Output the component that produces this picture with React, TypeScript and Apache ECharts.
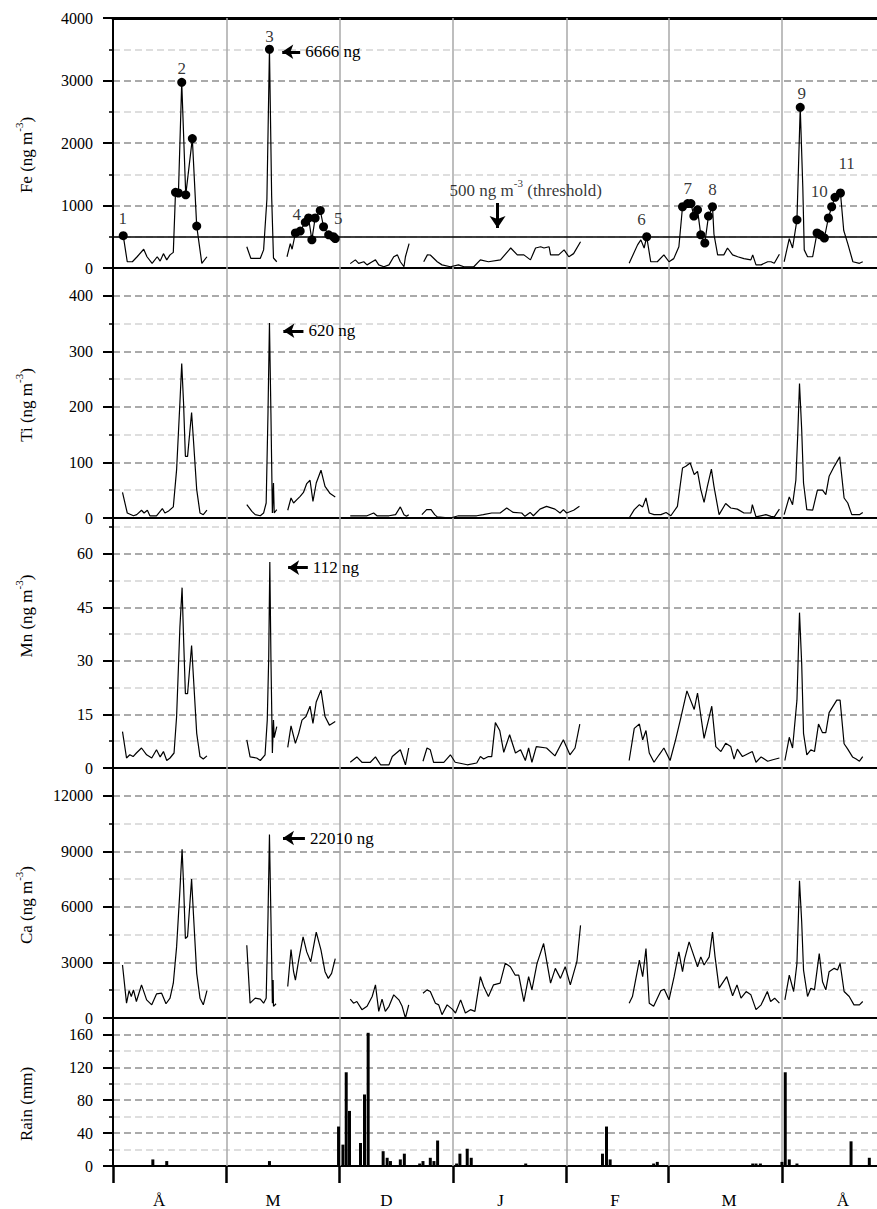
import React, { useEffect, useRef } from "react";
import * as echarts from "echarts";

const G = "-";
const FONT = "Liberation Serif";

const monthNames = ["Å", "M", "D", "J", "F", "M", "Å"];
const monthLabelDays = [12.6, 43.8, 74.8, 106, 137.3, 168.5, 199.7];
const monthBoundaryDays = [31, 62, 93, 124, 152, 183];
const dayMax = 209;
const threshold = 500;

// [day, value, marked(>threshold episode)]
const feData: any[] = [
  [2.8, 517, 1], [3.9, 100], [5.3, 100], [6.6, 180], [8.4, 300], [9.3, 180], [10.7, 75], [12.1, 180], [12.9, 110], [13.8, 230], [14.7, 130], [15.6, 210], [16.5, 250], [17.1, 1210, 1], [17.9, 1200, 1], [18.8, 2970, 1], [19.9, 1170, 1], [21.7, 2070, 1], [22.9, 670, 1], [24.3, 75], [25.7, 180],
  [30, G],
  [36.6, 340], [37.7, 155], [40.3, 155], [41.2, 290], [42.1, 1100], [42.8, 3500, 1], [43.4, 1150], [43.9, 160], [44.8, 100],
  [46, G],
  [47.6, 180], [48.5, 390], [49, 300], [49.9, 560, 1], [51.2, 590, 1], [52.6, 730, 1], [53.5, 800, 1], [54.4, 450, 1], [55.3, 800, 1], [56.7, 920, 1], [57.6, 660, 1], [59, 530, 1], [60.3, 500, 1], [60.8, 470, 1],
  [63, G],
  [64.9, 70], [66.3, 130], [67.2, 75], [68.6, 100], [69.5, 50], [70.9, 100], [71.8, 130], [72.7, 50], [74.1, 20], [75.5, 50], [76.8, 180], [77.8, 210], [78.6, 100], [79.6, 20], [80, 180], [81, 390],
  [83, G],
  [85, 100], [86, 210], [86.8, 208], [88.7, 100], [90, 50], [92.3, 20], [94.5, 50], [96, 20], [98.7, 20], [100.5, 130], [102.7, 100], [106, 130], [108.8, 320], [110.6, 210], [112.4, 210], [114.2, 130], [115.6, 320], [117, 340], [117.9, 320], [119.3, 340], [119.7, 210], [121.9, 210], [123.4, 290], [124.7, 180], [126, 230], [127.9, 420],
  [135, G],
  [141.2, 75], [143.5, 370], [144.4, 450], [145.3, 320], [146, 500, 1], [147.1, 100], [148.9, 100], [150.7, 210], [152.1, 100], [153.4, 150], [154.8, 340], [155.8, 980, 1], [157.2, 1030, 1], [158.1, 1030, 1], [158.9, 830, 1], [159.9, 930, 1], [160.8, 530, 1], [161.9, 400, 1], [162.9, 830, 1], [164, 980, 1], [164.4, 540], [165.4, 210], [167.1, 210], [168.1, 320], [169.5, 210], [170.9, 180], [172.6, 150], [174.5, 130], [175, 210], [175.9, 50], [177.3, 50], [179.1, 100], [180, 100], [180.9, 75], [182.3, 220],
  [183, G],
  [183.6, 100], [185, 470], [185.9, 320], [187.1, 770, 1], [188, 2570, 1], [188.7, 1300], [189.1, 290], [190, 180], [191.4, 180], [192.6, 560, 1], [193.5, 530, 1], [194.6, 480, 1], [195.7, 800, 1], [196.6, 980, 1], [197.5, 1130, 1], [199, 1200, 1], [199.9, 600], [201, 390], [202.4, 100], [204.2, 75], [205.1, 100],
];

const tiData: any[] = [
  [2.6, 46], [3.9, 9], [5.6, 4], [6.5, 6], [7.8, 14], [8.5, 9], [9.4, 14], [10.1, 4], [11.9, 4], [13.5, 17], [14.2, 9], [15.1, 12], [16.5, 20], [17.4, 87], [18.3, 207], [18.8, 278], [19.3, 207], [19.8, 111], [20.4, 111], [21.5, 190], [22, 141], [22.9, 51], [23.8, 9], [24.7, 6], [25.7, 14],
  [30, G],
  [36.6, 24], [38, 12], [38.9, 6], [40.3, 4], [41.2, 9], [41.9, 27], [42.4, 189], [42.8, 351], [43.2, 189], [43.6, 9], [43.9, 63], [44.1, 9], [44.8, 15],
  [46, G],
  [47.8, 14], [48.7, 36], [49.4, 27], [50.3, 33], [51.2, 39], [52.1, 46], [53, 62], [53.9, 68], [54.7, 30], [55.6, 63], [56.9, 86], [58, 57], [59.4, 44], [60.8, 38],
  [63, G],
  [64.9, 4], [69.5, 4], [71.3, 9], [72.2, 4], [75.5, 4], [77.3, 6], [78.6, 20], [79.6, 6], [80.3, 3], [80.9, 6],
  [83, G],
  [84.5, 6], [85.8, 15], [87, 15], [88, 6], [88.7, 2], [92.3, 0], [94.5, 4], [99.5, 4], [101.3, 6], [103.6, 9], [105.9, 9], [107.7, 18], [109.5, 10], [111.8, 9], [112.7, 3], [114.1, 10], [115, 4], [116.8, 16], [118.6, 21], [120.9, 16], [122.3, 9], [123.2, 15], [124.1, 9], [126, 14], [127.6, 21],
  [135, G],
  [141.2, 0], [142.6, 15], [144, 24], [144.9, 20], [145.8, 36], [146.7, 9], [148, 6], [149.9, 6], [151.3, 10], [152.6, 4], [154.4, 21], [155.8, 90], [156.7, 93], [157.9, 99], [159, 78], [159.9, 84], [160.8, 51], [161.7, 28], [162.6, 57], [163.7, 88], [164.4, 57], [165.8, 6], [167.6, 26], [169, 18], [170.8, 16], [172.6, 9], [174.5, 9], [174.9, 24], [175.9, 2], [178.6, 6], [180, 3], [180.9, 2], [182.3, 16],
  [183, G],
  [183.6, 6], [185, 38], [185.9, 24], [186.8, 68], [187.3, 147], [187.8, 242], [188.4, 159], [188.9, 63], [189.8, 15], [191.4, 14], [192.7, 50], [194.1, 50], [195, 42], [195.9, 75], [197.3, 93], [198.8, 110], [200, 36], [201, 27], [202.1, 6], [204.2, 6], [205.1, 10],
];

const mnData: any[] = [
  [2.6, 10.2], [3.7, 2.8], [4.6, 3.7], [5.5, 3.2], [6.4, 4.2], [7.8, 5.6], [9.2, 3.7], [10.6, 2.8], [11.9, 5.1], [12.9, 3.1], [13.8, 4.6], [14.7, 2.1], [15.6, 2.8], [16.7, 4.2], [17.4, 14.4], [18.3, 39.4], [18.9, 50.5], [19.3, 36.6], [19.8, 20.8], [20.4, 20.8], [21.5, 34.3], [22, 25.5], [22.9, 9.7], [23.8, 3.2], [24.7, 2.5], [25.7, 3.4],
  [30, G],
  [36.6, 7.9], [37.5, 3.1], [39.3, 2.8], [40.3, 2.1], [41.6, 3.7], [42.2, 13.4], [42.6, 31], [42.9, 57.7], [43.2, 31], [43.6, 4.2], [43.9, 13.4], [44.1, 8.5], [44.8, 11.6],
  [46, G],
  [47.8, 5.8], [48.7, 11.8], [49.9, 6.9], [50.8, 9.7], [51.7, 13.4], [52.8, 14.4], [53.9, 17.3], [54.7, 12.5], [55.6, 18.5], [56.9, 21.8], [58, 14.4], [59.2, 12], [60.8, 13],
  [63, G],
  [64.9, 1.6], [66.7, 3.1], [68.1, 1.6], [70.4, 1.6], [71.8, 3.1], [73.2, 0.9], [75.5, 0.9], [76.4, 3.2], [78.6, 5.1], [80, 0.9], [80.9, 5.6],
  [83, G],
  [84.8, 1.9], [85.9, 5.6], [86.8, 5.1], [87.7, 1.6], [90.5, 1.6], [92.3, 3.7], [93.6, 1.6], [96.9, 0.9], [99.5, 1.4], [100.5, 3.2], [101.4, 2.5], [102.7, 3.2], [103.6, 3.2], [104.6, 12.7], [105.8, 10.5], [106.9, 4.4], [108.5, 9.3], [110.1, 4.2], [111.5, 5.1], [112.8, 2.1], [113.7, 5.6], [114.6, 1.6], [115.8, 6], [118.6, 5.6], [120.9, 3.4], [123.2, 7.9], [125, 3.7], [126.4, 5.6], [127.7, 12.3],
  [135, G],
  [141.2, 2.1], [142.6, 11.1], [144, 12.3], [144.9, 7.9], [145.8, 10.5], [146.7, 4.2], [148, 1.6], [149.4, 3.7], [150.7, 5.6], [152.4, 2.1], [153.9, 7.9], [155.3, 13.9], [157, 21.6], [159, 16.4], [159.9, 21], [161.7, 8.3], [163.8, 17.3], [164.9, 6], [166.3, 4.6], [167.6, 6.9], [169, 6], [169.9, 2.5], [170.8, 5.3], [172.2, 3.2], [174.9, 4.6], [175.9, 1.6], [177.3, 3.1], [179.1, 1.9], [180.5, 2.3], [182.3, 2.8],
  [183, G],
  [183.8, 2.1], [185, 8.6], [185.9, 5.6], [187.1, 19], [187.8, 43.5], [188.4, 29.2], [188.9, 9.7], [189.8, 3.7], [190.9, 5.1], [191.9, 4.6], [193, 12.3], [194.1, 9.9], [195, 9.9], [195.9, 15.5], [198, 19], [198.9, 19], [200, 6.8], [201, 5.3], [202.3, 3.1], [203.3, 2.5], [204.2, 1.9], [205.1, 3.2],
];

const caData: any[] = [
  [2.6, 2860], [3.7, 800], [4.4, 1480], [5, 1160], [5.6, 1520], [6.4, 890], [7.8, 1790], [9.2, 980], [10.6, 710], [11.9, 1300], [13.3, 1340], [14.5, 770], [15.6, 1070], [16.5, 1880], [17.4, 3840], [18.3, 6880], [18.9, 9110], [19.3, 7230], [19.8, 4290], [20.4, 4400], [21.5, 7500], [22, 5630], [22.9, 2410], [23.8, 1070], [24.7, 710], [25.7, 1480],
  [30, G],
  [36.6, 3930], [37.5, 800], [38.9, 1070], [40.3, 1020], [41.2, 800], [41.9, 1070], [42.4, 5450], [42.8, 9910], [43.2, 5450], [43.6, 800], [43.8, 2050], [43.9, 630], [44.6, 770],
  [46, G],
  [47.8, 1700], [48.7, 3700], [49.4, 2500], [49.9, 2050], [50.8, 3130], [52, 4380], [53, 3570], [54.1, 3040], [55.6, 4640], [56.9, 3660], [58, 2500], [58.9, 2140], [59.8, 2410], [60.8, 3210],
  [63, G],
  [64.9, 1020], [65.8, 800], [66.7, 890], [68.1, 450], [69.5, 630], [70.9, 1160], [71.8, 1790], [72.7, 360], [73.6, 1020], [74.5, 360], [75.5, 630], [76.8, 1250], [78.2, 980], [79.1, 630], [80, 0], [80.9, 710],
  [83, G],
  [84.8, 1340], [85.9, 1520], [86.8, 1430], [88.2, 800], [89.1, 710], [90, 180], [91.4, 710], [92.8, 480], [93.7, 270], [95.1, 980], [96.4, 270], [97.8, 450], [99, 360], [100.5, 2230], [101.4, 1700], [102.7, 1160], [104.1, 1790], [105.9, 1880], [107.3, 2950], [108.7, 2770], [110, 2320], [111, 2320], [112.4, 890], [113.7, 2230], [114.6, 1520], [116, 2950], [117.8, 4020], [119.7, 1880], [121, 2680], [122.4, 2140], [123.7, 2770], [125.1, 1790], [126.9, 3040], [127.9, 5000],
  [135, G],
  [141.2, 800], [142.1, 1160], [144, 3130], [144.9, 2230], [145.8, 3750], [146.7, 800], [147.9, 630], [149.9, 1480], [150.8, 1550], [152.1, 980], [153.5, 2230], [154.8, 3570], [155.8, 2500], [156.4, 3210], [157.6, 4110], [159, 3300], [159.9, 2770], [160.8, 3300], [161.7, 2860], [163.1, 3300], [164, 4640], [164.7, 3300], [165.8, 1610], [167.9, 2230], [169.5, 1200], [170.7, 1790], [171.8, 1070], [173.2, 1430], [174.5, 1250], [175.9, 450], [177.3, 710], [179, 1430], [179.9, 890], [181, 1070], [182.3, 800],
  [183, G],
  [183.8, 980], [185, 2320], [186.2, 1430], [187.1, 2950], [187.8, 7410], [188.4, 5180], [188.9, 2590], [190, 1160], [190.9, 1610], [191.9, 1520], [193.2, 3480], [194.1, 1960], [195, 1520], [195.9, 2500], [197.3, 2680], [198.2, 2590], [198.9, 2950], [200, 1430], [201.4, 1160], [202.7, 710], [204.2, 710], [205.1, 890],
];

const rainData: any[] = [
  [10.9, 8], [14.7, 6], [42.8, 6], [61.7, 48], [62.9, 26], [63.8, 114], [64.7, 67], [67.7, 28], [68.8, 87], [69.8, 162], [73.9, 18], [75, 10], [75.9, 6], [78.6, 8], [79.7, 15], [83.9, 3], [84.8, 6], [86.8, 10], [87.8, 6], [88.8, 31], [94, 3], [94.9, 15], [96.9, 21], [98, 10], [112.9, 3], [133.9, 15], [135, 48], [136, 8], [147.9, 3], [148.9, 5], [175, 3], [175.9, 3], [177.1, 3], [183, 5], [183.9, 114], [185, 8], [187.1, 3], [201.9, 30], [206.9, 10],
];

const feEpisodeLabels = [
  { name: "1", value: [2.65, 800] },
  { name: "2", value: [18.8, 3200] },
  { name: "3", value: [42.8, 3700] },
  { name: "4", value: [50.3, 850] },
  { name: "5", value: [61.6, 800] },
  { name: "6", value: [144.6, 770] },
  { name: "7", value: [157.2, 1280] },
  { name: "8", value: [164, 1250] },
  { name: "9", value: [188.4, 2800] },
  { name: "10", value: [193.2, 1220] },
  { name: "11", value: [200.7, 1680] },
];

// off-scale peaks: [arrow tip day, arrow tail day, level, text]
const fePeakNote = [46.3, 51.2, 3460, "6666 ng"];
const tiPeakNote = [46.6, 52.1, 337, "620 ng"];
const mnPeakNote = [47.9, 53.3, 56.1, "112 ng"];
const caPeakNote = [46.5, 52.5, 9720, "22010 ng"];
const thresholdNote = { text: "500 ng m-3 (threshold)", pos: [112.9, 1280], arrowDay: 105.2, arrowFrom: 1040, arrowTo: 640 };

const panelDefs = [
  { title: "Fe", sup: true, max: 4000, minor: 500, major: 1000, top: 18, height: 250, shift: 12 },
  { title: "Ti", sup: true, max: 450, minor: 50, major: 100, top: 268, height: 250, shift: 12 },
  { title: "Mn", sup: true, max: 70, minor: 7.5, major: 15, top: 518, height: 250, shift: -27 },
  { title: "Ca", sup: true, max: 13500, minor: 1500, major: 3000, top: 768, height: 250, shift: 12 },
  { title: "Rain", sup: false, max: 180, minor: 20, major: 40, top: 1018, height: 149, shift: 12 },
];

const txt = { fontFamily: FONT, color: "#000" };

function monthLines() {
  return monthBoundaryDays.map((d) => ({
    xAxis: d,
    lineStyle: { color: "#a8a8a8", width: 1.5, type: "solid" },
    label: { show: false },
  }));
}

function peakArrow(note: any[]) {
  return [
    {
      coord: [note[0], note[2]],
      symbol: "arrow",
      symbolSize: 11,
      lineStyle: { color: "#000", width: 3, type: "solid" },
      label: { show: true, position: "end", formatter: note[3], distance: 5, ...txt, fontSize: 17 },
    },
    { coord: [note[1], note[2]], symbol: "none" },
  ];
}

function baseMarkLine(extra: any[]) {
  return {
    silent: true,
    symbol: ["none", "none"],
    symbolSize: 11,
    label: { show: false },
    data: [...monthLines(), ...extra],
  };
}

export default function App() {
  const ref = useRef<HTMLDivElement>(null);
  useEffect(() => {
    if (!ref.current) return;
    const chart = echarts.init(ref.current, null, { renderer: "svg" });

    const grids = panelDefs.map((p) => ({ left: 113, width: 764, top: p.top, height: p.height, containLabel: false }));

    const xAxes: any[] = panelDefs.map((p, i) => {
      const isRain = i === panelDefs.length - 1;
      return {
        type: "value",
        gridIndex: i,
        min: 0,
        max: dayMax,
        position: "bottom",
        axisLine: { show: true, onZero: false, lineStyle: { color: "#000", width: 2 } },
        axisTick: isRain
          ? { show: true, customValues: [0, ...monthBoundaryDays], length: 17, lineStyle: { color: "#000", width: 2.5 } }
          : { show: false },
        axisLabel: isRain
          ? {
              show: true,
              customValues: monthLabelDays,
              formatter: (v: number) => {
                let best = 0;
                monthLabelDays.forEach((d, k) => {
                  if (Math.abs(d - v) < Math.abs(monthLabelDays[best] - v)) best = k;
                });
                return monthNames[best];
              },
              margin: 26,
              ...txt,
              fontSize: 17,
            }
          : { show: false },
        splitLine: { show: false },
      };
    });
    xAxes.push({
      type: "value",
      gridIndex: 0,
      min: 0,
      max: dayMax,
      position: "top",
      axisLine: { show: true, onZero: false, lineStyle: { color: "#000", width: 3 } },
      axisTick: { show: false },
      axisLabel: { show: false },
      splitLine: { show: false },
    });

    const mainY = panelDefs.map((p, i) => {
      const pad = p.shift > 0 ? [0, 2 * p.shift, 0, 0] : [0, 0, 0, -2 * p.shift];
      const name = p.sup ? `{a|${p.title} (ng m}{s|-3}{a|)}` : `{a|${p.title} (mm)}`;
      return {
        type: "value",
        gridIndex: i,
        min: 0,
        max: p.max,
        interval: p.minor,
        position: "left",
        name,
        nameLocation: "middle",
        nameGap: 78,
        nameTextStyle: {
          ...txt,
          fontSize: 17,
          padding: pad,
          rich: {
            a: { ...txt, fontSize: 17, lineHeight: 22, verticalAlign: "bottom" },
            s: { ...txt, fontSize: 11, lineHeight: 22, verticalAlign: "top" },
          },
        },
        axisLine: { show: true, onZero: false, lineStyle: { color: "#000", width: 2 } },
        axisTick: { show: true, length: 4, lineStyle: { color: "#000", width: 1.5 } },
        axisLabel: {
          formatter: (v: number) => (Math.abs(v / p.major - Math.round(v / p.major)) < 1e-6 ? String(v) : ""),
          margin: 20,
          ...txt,
          fontSize: 16,
        },
        splitLine: {
          show: true,
          showMaxLine: false,
          lineStyle: { color: ["#8e8e8e", "#d4d4d4"], type: [7, 4], width: 1.5 },
        },
      };
    });
    const tickY = panelDefs.map((p, i) => ({
      type: "value",
      gridIndex: i,
      min: 0,
      max: p.max,
      interval: p.major,
      position: "left",
      axisLine: { show: false, onZero: false },
      axisTick: { show: true, length: 10, lineStyle: { color: "#000", width: 2 } },
      axisLabel: { show: false },
      splitLine: { show: false },
    }));

    const lineStyle = { color: "#000", width: 1.2 };

    const series: any[] = [
      {
        type: "line",
        xAxisIndex: 0,
        yAxisIndex: 0,
        data: feData,
        symbol: "circle",
        symbolSize: (v: any) => (v && v[2] ? 9 : 0),
        showSymbol: true,
        connectNulls: false,
        lineStyle,
        itemStyle: { color: "#000" },
        silent: true,
        z: 5,
        markLine: baseMarkLine([
          { yAxis: threshold, lineStyle: { color: "#000", width: 1.5, type: "solid" }, label: { show: false } },
          peakArrow(fePeakNote),
          [
            {
              coord: [thresholdNote.arrowDay, thresholdNote.arrowFrom],
              symbol: "none",
              lineStyle: { color: "#000", width: 3, type: "solid" },
              label: { show: false },
            },
            { coord: [thresholdNote.arrowDay, thresholdNote.arrowTo], symbol: "arrow", symbolSize: 12 },
          ],
        ]),
      },
      {
        type: "scatter",
        xAxisIndex: 0,
        yAxisIndex: 0,
        symbolSize: 0,
        silent: true,
        z: 6,
        label: { show: true, position: "inside", formatter: "{b}", ...txt, fontSize: 17 },
        data: [
          ...feEpisodeLabels,
          {
            name: thresholdNote.text,
            value: thresholdNote.pos,
            label: {
              formatter: "{a|500 ng m}{s|-3}{a| (threshold)}",
              rich: {
                a: { ...txt, fontSize: 17, lineHeight: 22, verticalAlign: "bottom" },
                s: { ...txt, fontSize: 11, lineHeight: 22, verticalAlign: "top" },
              },
            },
          },
        ],
      },
      {
        type: "line",
        xAxisIndex: 1,
        yAxisIndex: 1,
        data: tiData,
        showSymbol: false,
        connectNulls: false,
        lineStyle,
        silent: true,
        z: 5,
        markLine: baseMarkLine([peakArrow(tiPeakNote)]),
      },
      {
        type: "line",
        xAxisIndex: 2,
        yAxisIndex: 2,
        data: mnData,
        showSymbol: false,
        connectNulls: false,
        lineStyle,
        silent: true,
        z: 5,
        markLine: baseMarkLine([peakArrow(mnPeakNote)]),
      },
      {
        type: "line",
        xAxisIndex: 3,
        yAxisIndex: 3,
        data: caData,
        showSymbol: false,
        connectNulls: false,
        lineStyle,
        silent: true,
        z: 5,
        markLine: baseMarkLine([peakArrow(caPeakNote)]),
      },
      {
        type: "bar",
        xAxisIndex: 4,
        yAxisIndex: 4,
        data: rainData,
        barWidth: 3,
        itemStyle: { color: "#000" },
        silent: true,
        z: 5,
        markLine: baseMarkLine([]),
      },
    ];

    chart.setOption({
      animation: false,
      backgroundColor: "#fff",
      grid: grids,
      xAxis: xAxes,
      yAxis: [...mainY, ...tickY],
      series,
    });
    return () => chart.dispose();
  }, []);

  return (
    <div
      ref={ref}
      style={{ position: "fixed", left: 0, top: 0, width: 877, height: 1209, background: "#fff" }}
    />
  );
}
